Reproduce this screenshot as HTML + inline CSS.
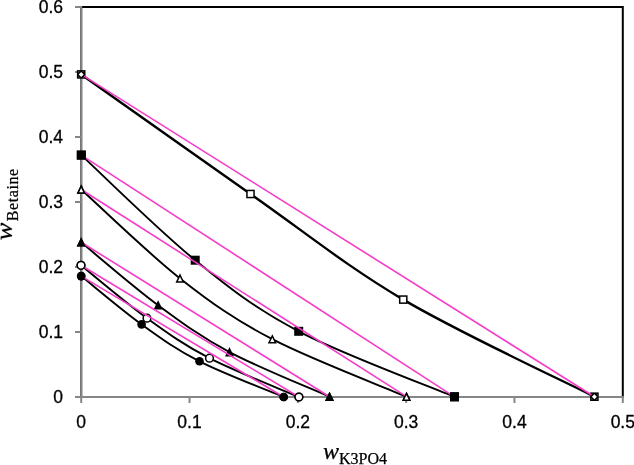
<!DOCTYPE html>
<html><head><meta charset="utf-8"><style>
html,body{margin:0;padding:0;background:#fff;}
body{width:634px;height:465px;overflow:hidden;position:relative;}
svg{position:absolute;left:0;top:0;will-change:transform;}
.tk{font-family:"Liberation Sans",sans-serif;font-size:17.5px;fill:#000;stroke:#000;stroke-width:0.3px;}
.ti{font-family:"Liberation Serif",serif;fill:#000;stroke:#000;stroke-width:0.25px;}
</style></head><body>
<svg width="634" height="465" viewBox="0 0 634 465">
<rect x="81.2" y="7" width="541.6" height="390" fill="none" stroke="#000" stroke-width="2"/>
<g stroke="#868686" stroke-width="2">
<line x1="81.2" y1="6" x2="81.2" y2="398"/>
<line x1="80.2" y1="397" x2="623.8" y2="397"/>
<line x1="75" y1="397.0" x2="81.2" y2="397.0"/>
<line x1="75" y1="332.0" x2="81.2" y2="332.0"/>
<line x1="75" y1="267.0" x2="81.2" y2="267.0"/>
<line x1="75" y1="202.0" x2="81.2" y2="202.0"/>
<line x1="75" y1="137.0" x2="81.2" y2="137.0"/>
<line x1="75" y1="72.0" x2="81.2" y2="72.0"/>
<line x1="75" y1="7.0" x2="81.2" y2="7.0"/>
<line x1="81.20" y1="397" x2="81.20" y2="403"/>
<line x1="189.52" y1="397" x2="189.52" y2="403"/>
<line x1="297.84" y1="397" x2="297.84" y2="403"/>
<line x1="406.16" y1="397" x2="406.16" y2="403"/>
<line x1="514.48" y1="397" x2="514.48" y2="403"/>
<line x1="622.80" y1="397" x2="622.80" y2="403"/>
</g>
<path d="M81.20 74.40 C109.42 94.33 196.82 156.47 250.50 194.00 C304.18 231.53 345.93 265.82 403.25 299.60 C460.57 333.38 562.54 380.52 594.40 396.70" fill="none" stroke="#000" stroke-width="2.40" stroke-linejoin="round"/>
<rect x="77.65" y="70.85" width="7.10" height="7.10" fill="#fff" stroke="#000" stroke-width="1.5"/>
<rect x="246.95" y="190.45" width="7.10" height="7.10" fill="#fff" stroke="#000" stroke-width="1.5"/>
<rect x="399.70" y="296.05" width="7.10" height="7.10" fill="#fff" stroke="#000" stroke-width="1.5"/>
<rect x="590.85" y="393.15" width="7.10" height="7.10" fill="#fff" stroke="#000" stroke-width="1.5"/>
<line x1="81.20" y1="74.40" x2="594.40" y2="396.70" stroke="#f53cc8" stroke-width="1.60"/>
<circle cx="81.20" cy="74.40" r="3.4" fill="#000"/><path d="M81.20 71.90l2.5 2.5l-2.5 2.5l-2.5 -2.5z" fill="#fff"/>
<circle cx="594.40" cy="396.70" r="3.4" fill="#000"/><path d="M594.40 394.20l2.5 2.5l-2.5 2.5l-2.5 -2.5z" fill="#fff"/>
<path d="M81.30 155.10 C100.28 172.62 158.97 230.83 195.20 260.20 C231.43 289.57 255.48 308.53 298.70 331.30 C341.92 354.07 428.53 385.88 454.50 396.80" fill="none" stroke="#000" stroke-width="1.90" stroke-linejoin="round"/>
<rect x="76.80" y="150.60" width="9.00" height="9.00" fill="#000"/>
<rect x="190.70" y="255.70" width="9.00" height="9.00" fill="#000"/>
<rect x="294.20" y="326.80" width="9.00" height="9.00" fill="#000"/>
<rect x="450.00" y="392.30" width="9.00" height="9.00" fill="#000"/>
<line x1="81.30" y1="155.10" x2="454.50" y2="396.80" stroke="#f53cc8" stroke-width="1.60"/>
<rect x="76.80" y="150.60" width="9.00" height="9.00" fill="#000"/>
<rect x="450.00" y="392.30" width="9.00" height="9.00" fill="#000"/>
<path d="M81.20 189.50 C97.67 204.32 148.15 253.45 180.00 278.40 C211.85 303.35 234.55 319.48 272.30 339.20 C310.05 358.92 384.13 387.12 406.50 396.70" fill="none" stroke="#000" stroke-width="1.90" stroke-linejoin="round"/>
<path d="M81.20 186.20L84.50 193.05L77.90 193.05Z" fill="#fff" stroke="#000" stroke-width="1.5" stroke-linejoin="miter"/>
<path d="M180.00 275.10L183.30 281.95L176.70 281.95Z" fill="#fff" stroke="#000" stroke-width="1.5" stroke-linejoin="miter"/>
<path d="M272.30 335.90L275.60 342.75L269.00 342.75Z" fill="#fff" stroke="#000" stroke-width="1.5" stroke-linejoin="miter"/>
<path d="M406.50 393.40L409.80 400.25L403.20 400.25Z" fill="#fff" stroke="#000" stroke-width="1.5" stroke-linejoin="miter"/>
<line x1="81.20" y1="189.50" x2="406.50" y2="396.70" stroke="#f53cc8" stroke-width="1.60"/>
<path d="M81.20 186.20L84.50 193.05L77.90 193.05Z" fill="#fff" stroke="#000" stroke-width="1.5" stroke-linejoin="miter"/>
<path d="M406.50 393.40L409.80 400.25L403.20 400.25Z" fill="#fff" stroke="#000" stroke-width="1.5" stroke-linejoin="miter"/>
<path d="M81.20 242.30 C94.02 252.78 133.38 286.90 158.10 305.20 C182.82 323.50 200.93 336.85 229.50 352.10 C258.07 367.35 312.83 389.27 329.50 396.70" fill="none" stroke="#000" stroke-width="1.90" stroke-linejoin="round"/>
<path d="M81.20 239.00L84.50 245.85L77.90 245.85Z" fill="#000" stroke="#000" stroke-width="1.5" stroke-linejoin="miter"/>
<path d="M158.10 301.90L161.40 308.75L154.80 308.75Z" fill="#000" stroke="#000" stroke-width="1.5" stroke-linejoin="miter"/>
<path d="M229.50 348.80L232.80 355.65L226.20 355.65Z" fill="#000" stroke="#000" stroke-width="1.5" stroke-linejoin="miter"/>
<path d="M329.50 393.40L332.80 400.25L326.20 400.25Z" fill="#000" stroke="#000" stroke-width="1.5" stroke-linejoin="miter"/>
<line x1="81.20" y1="242.30" x2="329.50" y2="396.70" stroke="#f53cc8" stroke-width="1.60"/>
<path d="M81.20 239.00L84.50 245.85L77.90 245.85Z" fill="#000" stroke="#000" stroke-width="1.5" stroke-linejoin="miter"/>
<path d="M329.50 393.40L332.80 400.25L326.20 400.25Z" fill="#000" stroke="#000" stroke-width="1.5" stroke-linejoin="miter"/>
<path d="M81.00 265.30 C92.00 274.12 125.58 302.72 147.00 318.20 C168.42 333.68 184.18 345.07 209.50 358.20 C234.82 371.33 284.00 390.53 298.90 397.00" fill="none" stroke="#000" stroke-width="1.90" stroke-linejoin="round"/>
<circle cx="81.00" cy="265.30" r="3.85" fill="#fff" stroke="#000" stroke-width="1.5"/>
<circle cx="147.00" cy="318.20" r="3.85" fill="#fff" stroke="#000" stroke-width="1.5"/>
<circle cx="209.50" cy="358.20" r="3.85" fill="#fff" stroke="#000" stroke-width="1.5"/>
<circle cx="298.90" cy="397.00" r="3.85" fill="#fff" stroke="#000" stroke-width="1.5"/>
<line x1="81.00" y1="265.30" x2="298.90" y2="397.00" stroke="#f53cc8" stroke-width="1.60"/>
<circle cx="81.00" cy="265.30" r="3.85" fill="#fff" stroke="#000" stroke-width="1.5"/>
<circle cx="298.90" cy="397.00" r="3.85" fill="#fff" stroke="#000" stroke-width="1.5"/>
<path d="M81.20 276.10 C91.27 284.15 121.88 310.20 141.60 324.40 C161.32 338.60 175.82 349.20 199.50 361.30 C223.18 373.40 269.67 391.05 283.70 397.00" fill="none" stroke="#000" stroke-width="1.90" stroke-linejoin="round"/>
<circle cx="81.20" cy="276.10" r="4.30" fill="#000"/>
<circle cx="141.60" cy="324.40" r="4.30" fill="#000"/>
<circle cx="199.50" cy="361.30" r="4.30" fill="#000"/>
<circle cx="283.70" cy="397.00" r="4.30" fill="#000"/>
<line x1="81.20" y1="276.10" x2="283.70" y2="397.00" stroke="#f53cc8" stroke-width="1.60"/>
<circle cx="81.20" cy="276.10" r="4.30" fill="#000"/>
<circle cx="283.70" cy="397.00" r="4.30" fill="#000"/>
<text x="63" y="402.6" text-anchor="end" class="tk">0</text>
<text x="63" y="337.6" text-anchor="end" class="tk">0.1</text>
<text x="63" y="272.6" text-anchor="end" class="tk">0.2</text>
<text x="63" y="207.6" text-anchor="end" class="tk">0.3</text>
<text x="63" y="142.6" text-anchor="end" class="tk">0.4</text>
<text x="63" y="77.6" text-anchor="end" class="tk">0.5</text>
<text x="63" y="12.6" text-anchor="end" class="tk">0.6</text>
<text x="81.20" y="427.5" text-anchor="middle" class="tk">0</text>
<text x="189.52" y="427.5" text-anchor="middle" class="tk">0.1</text>
<text x="297.84" y="427.5" text-anchor="middle" class="tk">0.2</text>
<text x="406.16" y="427.5" text-anchor="middle" class="tk">0.3</text>
<text x="514.48" y="427.5" text-anchor="middle" class="tk">0.4</text>
<text x="622.80" y="427.5" text-anchor="middle" class="tk">0.5</text>
<text class="ti" x="323" y="458.7"><tspan font-style="italic" font-size="24">w</tspan><tspan font-size="16" dy="5.6">K3PO4</tspan></text>
<g transform="translate(11.8,240.3) rotate(-90)"><path transform="scale(0.0129,-0.01171875)" stroke="#000" stroke-width="21" d="M900 -20H834L710 599L392 -20H322L151 870L49 895L57 940H302L433 233L742 834H817L939 229L1136 618Q1193 732 1193 807Q1193 844 1172.0 866.0Q1151 888 1127 895L1135 940H1325Q1351 917 1351 877Q1351 809 1268 657Z"/><text class="ti" x="19.1" y="6.5" font-size="16" letter-spacing="0.57">Betaine</text></g>
</svg>
</body></html>
